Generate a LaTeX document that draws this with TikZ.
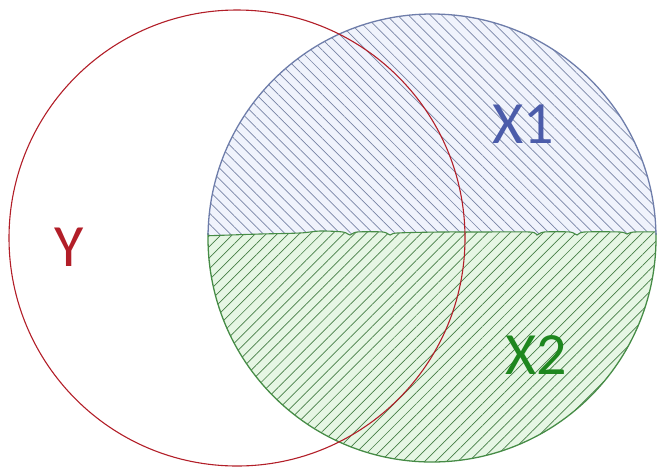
\documentclass[tikz,border=0pt]{standalone}
\usepackage{fontspec}
\setmainfont{Carlito}
\usetikzlibrary{patterns.meta}
\definecolor{redc}{RGB}{178,30,40}
\definecolor{bluec}{RGB}{75,92,170}
\definecolor{blueline}{RGB}{110,125,170}
\definecolor{bluehatch}{RGB}{120,132,165}
\definecolor{bluefill}{RGB}{240,243,252}
\definecolor{greenc}{RGB}{30,135,30}
\definecolor{greenline}{RGB}{70,140,70}
\definecolor{greenhatch}{RGB}{70,125,70}
\definecolor{greenfill}{RGB}{230,246,228}
\tikzset{
  lbl/.style={font=\fontsize{60}{62}\selectfont, inner sep=0pt},
  bluepat/.style={pattern={Lines[angle=-45,distance=7.8pt,line width=0.7pt]}, pattern color=bluehatch},
  greenpat/.style={pattern={Lines[angle=45,distance=7.8pt,line width=0.7pt]}, pattern color=greenhatch},
}
\begin{document}
\begin{tikzpicture}[x=1pt,y=-1pt]
\useasboundingbox (0,0) rectangle (658,467);
\def\wavepts{(200,236) (230,235) (260,234) (300,233) (320,231) (343,232) (350,235) (357,232) (383,232) (390,235) (397,233) (440,232) (480,232) (530,232) (537,235) (544,232) (570,232) (577,235) (584,232) (620,232) (627,234) (634,232) (665,232)}
\begin{scope}
  \clip (432,238) circle (224);
  \fill[bluefill] (200,0) rectangle (665,245);
  \fill[bluepat] (200,0) rectangle (665,245);
  \fill[greenfill] plot[smooth] coordinates {\wavepts} -- (665,470) -- (200,470) -- cycle;
  \fill[greenpat] plot[smooth] coordinates {\wavepts} -- (665,470) -- (200,470) -- cycle;
  \draw[greenline, line width=1.1pt] plot[smooth] coordinates {\wavepts};
\end{scope}
\begin{scope}
  \clip (200,233) rectangle (665,470);
  \draw[greenline, line width=1.3pt] (432,238) circle (224);
\end{scope}
\begin{scope}
  \clip (200,0) rectangle (665,234);
  \draw[blueline, line width=1.3pt] (432,238) circle (224);
\end{scope}
\draw[redc, line width=1.1pt] (237,238) circle (228);
\node[lbl, text=redc] (Y) at (69,247) {Y};
\node[lbl, text=bluec] (X1) at (523,124) {X1};
\node[lbl, text=greenc] (X2) at (536,355) {X2};
\end{tikzpicture}
\end{document}
